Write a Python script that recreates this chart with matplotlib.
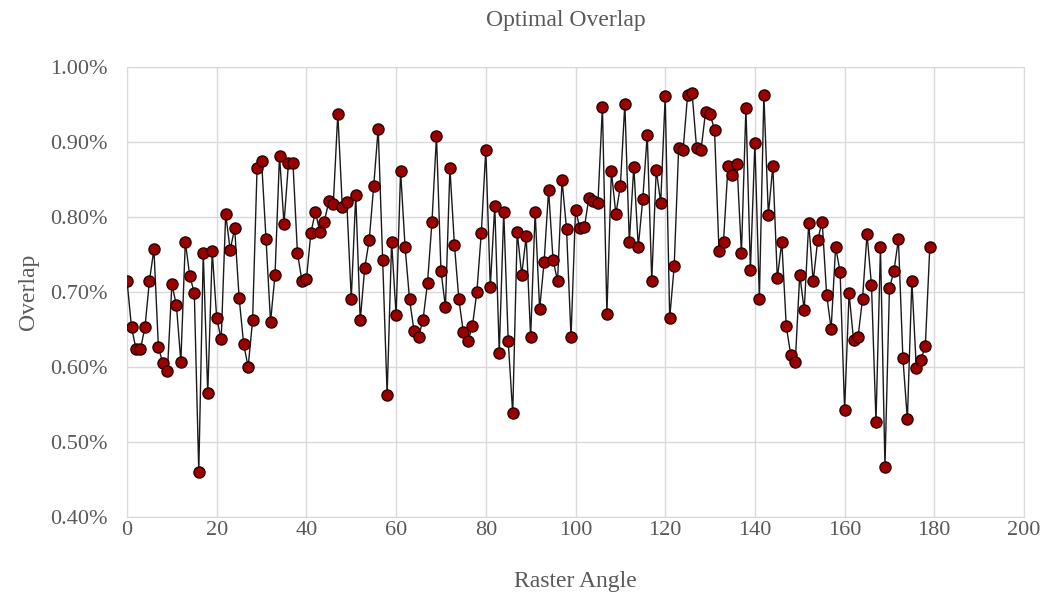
import matplotlib
matplotlib.use("Agg")
import matplotlib.pyplot as plt
from matplotlib.ticker import FuncFormatter

plt.rcParams['font.family'] = ['Liberation Serif', 'DejaVu Serif']

# raster angle (deg) and optimal overlap (%)
angles = list(range(180))
overlap = [
    0.715, 0.653, 0.624, 0.624, 0.653, 0.715, 0.757, 0.626, 0.605, 0.594,
    0.710, 0.683, 0.607, 0.767, 0.721, 0.699, 0.460, 0.752, 0.565, 0.754,
    0.665, 0.637, 0.804, 0.756, 0.785, 0.692, 0.631, 0.600, 0.662, 0.866,
    0.875, 0.770, 0.660, 0.723, 0.882, 0.791, 0.872, 0.872, 0.752, 0.715,
    0.717, 0.779, 0.807, 0.780, 0.794, 0.821, 0.818, 0.938, 0.814, 0.820,
    0.691, 0.829, 0.662, 0.732, 0.769, 0.841, 0.918, 0.743, 0.563, 0.767,
    0.669, 0.861, 0.760, 0.690, 0.648, 0.640, 0.663, 0.712, 0.794, 0.908,
    0.728, 0.680, 0.865, 0.763, 0.690, 0.646, 0.634, 0.654, 0.700, 0.779,
    0.890, 0.707, 0.815, 0.619, 0.807, 0.634, 0.538, 0.780, 0.723, 0.774,
    0.640, 0.807, 0.677, 0.740, 0.836, 0.742, 0.715, 0.849, 0.784, 0.640,
    0.809, 0.785, 0.787, 0.826, 0.822, 0.819, 0.947, 0.671, 0.861, 0.804,
    0.841, 0.951, 0.767, 0.867, 0.760, 0.824, 0.910, 0.715, 0.863, 0.819,
    0.961, 0.665, 0.734, 0.892, 0.890, 0.963, 0.965, 0.892, 0.890, 0.940,
    0.938, 0.916, 0.754, 0.767, 0.868, 0.856, 0.871, 0.752, 0.946, 0.729,
    0.899, 0.691, 0.963, 0.803, 0.868, 0.718, 0.767, 0.654, 0.616, 0.606,
    0.723, 0.676, 0.792, 0.714, 0.769, 0.794, 0.696, 0.651, 0.760, 0.727,
    0.543, 0.698, 0.636, 0.640, 0.691, 0.777, 0.709, 0.527, 0.760, 0.467,
    0.705, 0.728, 0.770, 0.612, 0.530, 0.715, 0.598, 0.609, 0.628, 0.760,
]

xticks = [0, 20, 40, 60, 80, 100, 120, 140, 160, 180, 200]
yticks = [0.40, 0.50, 0.60, 0.70, 0.80, 0.90, 1.00]

txt = '#595959'
grid = '#d9d9d9'

fig = plt.figure(figsize=(10.55, 6.01), dpi=100)
ax = fig.add_axes([0.1204, 0.1398, 0.8502, 0.7487])

ax.plot(angles, overlap, color='#1a1a1a', lw=1.0, marker='o', ms=8,
        mfc='#9a0000', mec='#2e0000', mew=1.0, zorder=3)

ax.set_xlim(0, 200)
ax.set_ylim(0.40, 1.00)
ax.set_xticks(xticks)
ax.set_yticks(yticks)
ax.yaxis.set_major_formatter(FuncFormatter(lambda v, p: '%.2f%%' % v))
ax.grid(True, color=grid, lw=1.0)
ax.set_axisbelow(True)
for sp in ax.spines.values():
    sp.set_color(grid)
ax.tick_params(length=0, labelsize=16, labelcolor=txt)
ax.tick_params(axis='x', pad=3)
ax.tick_params(axis='y', pad=14)

ax.set_xlabel('Raster Angle', fontsize=17, color=txt, labelpad=22)
ax.set_ylabel('Overlap', fontsize=17, color=txt, labelpad=8)
fig.text(0.536, 0.966, 'Optimal Overlap', fontsize=17, color=txt,
         ha='center', va='center')

fig.savefig('out.png', dpi=100)
